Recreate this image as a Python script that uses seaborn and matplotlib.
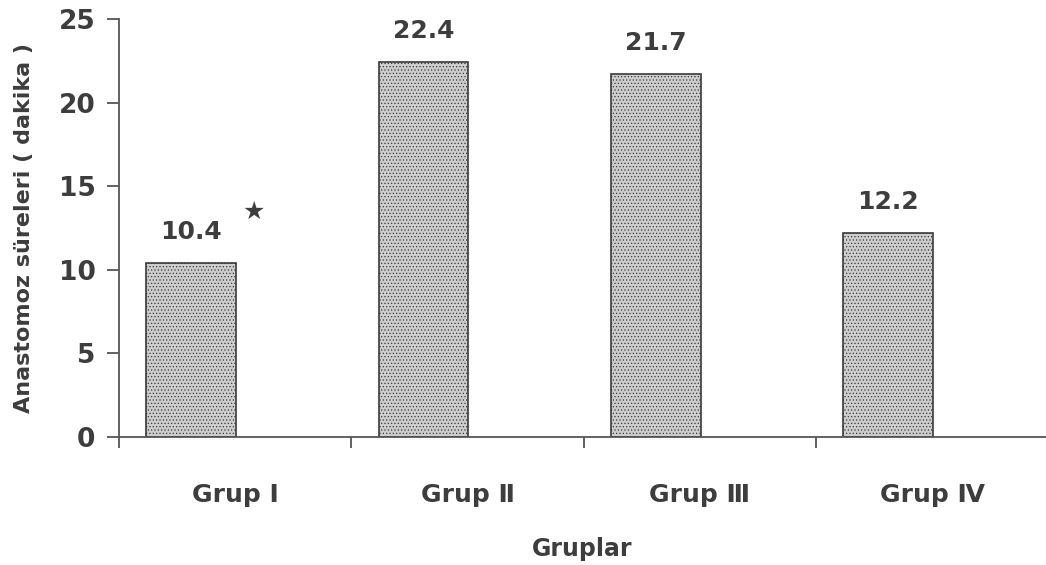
import matplotlib
matplotlib.use("Agg")
import matplotlib.pyplot as plt
import seaborn as sns

groups = ["Grup Ⅰ", "Grup Ⅱ", "Grup Ⅲ", "Grup Ⅳ"]
durations = [10.4, 22.4, 21.7, 12.2]
y_ticks = [0, 5, 10, 15, 20, 25]

TEXT = "#3d3d3d"
AXIS = "#555555"

sns.set_theme(style="white")
plt.rcParams.update({
    "font.family": ["DejaVu Sans"],
    "font.weight": "bold",
    "hatch.linewidth": 0.5,
})

fig = plt.figure(figsize=(10.46, 5.65), dpi=100)
ax = fig.add_axes([0.1138, 0.2265, 0.8862, 0.7399])

# bars sit left of each category centre, as in the original clustered layout
sns.barplot(x=groups, y=durations, width=0.386, color="#cdcdcd",
            edgecolor="#3a3a3a", linewidth=1.2, hatch=".....",
            saturation=1, ax=ax)
for p in ax.patches:
    p.set_x(p.get_x() - 0.19)

ax.bar_label(ax.containers[0], labels=[f"{v:.1f}" for v in durations],
             padding=14, fontsize=18, fontweight="bold", color=TEXT)

# significance star next to Grup I
first = ax.patches[0]
ax.annotate("★", xy=(first.get_x() + first.get_width(), durations[0]),
            xytext=(13, 37), textcoords="offset points",
            ha="center", va="center", fontsize=18, color=TEXT)

ax.set_xlim(-0.5, 3.49)
ax.set_ylim(0, 25)
ax.set_yticks(y_ticks)
ax.set_xticks(range(len(groups)))
ax.set_xticks([-0.5, 0.5, 1.5, 2.5], minor=True)
ax.tick_params(axis="x", which="major", length=0, pad=33,
               labelsize=18, labelcolor=TEXT)
ax.tick_params(axis="x", which="minor", length=8, width=1.3,
               color=AXIS, direction="out", bottom=True)
ax.tick_params(axis="y", which="major", length=9, width=1.3,
               color=AXIS, direction="out", left=True, pad=8,
               labelsize=19, labelcolor=TEXT)
for lbl in ax.get_xticklabels() + ax.get_yticklabels():
    lbl.set_fontweight("bold")

sns.despine(ax=ax)
for side in ["left", "bottom"]:
    ax.spines[side].set_color(AXIS)
    ax.spines[side].set_linewidth(1.3)

ax.set_xlabel("Gruplar", fontsize=17, fontweight="bold", color=TEXT, labelpad=22)
ax.set_ylabel("Anastomoz süreleri ( dakika )", fontsize=16, fontweight="bold",
              color=TEXT, labelpad=18)

fig.savefig("out.png", dpi=100, facecolor="white")
